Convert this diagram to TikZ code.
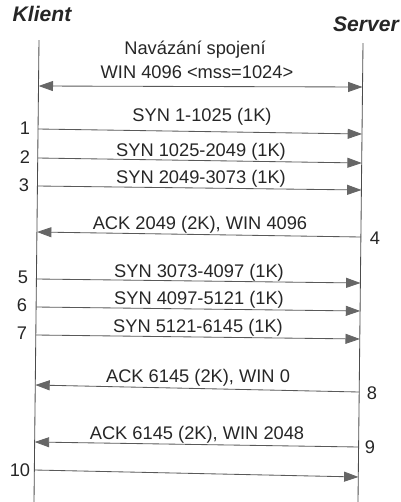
\documentclass[tikz,border=0pt]{standalone}
\usepackage{fontspec}
\setmainfont{Liberation Sans}
\usetikzlibrary{arrows.meta}

\begin{document}
\begin{tikzpicture}
    [x=0.025cm,y=-0.025cm,
    life/.style={draw=black!70,line width=0.6pt},
    msg/.style={draw=black!65,line width=0.6pt,-{Triangle[length=0.36cm,width=0.25cm,color=black!60,fill=black!60]}},
    twoway/.style={draw=black!65,line width=0.6pt,{Triangle[length=0.36cm,width=0.25cm,color=black!60,fill=black!60]}-{Triangle[length=0.36cm,width=0.25cm,color=black!60,fill=black!60]}},
    lbl/.style={font=\fontsize{13}{15}\selectfont,text=black!85,inner sep=0pt},
    head/.style={font=\fontsize{15}{17}\selectfont\bfseries\itshape,text=black!85,inner sep=0pt}]
    \useasboundingbox (0,0) rectangle (401,502);
    %titles
    \node[head] (klient) at (42,14) {Klient};
    \node[head] (server) at (366,24) {Server};
    %lifelines
    \coordinate (ktop) at (39,40);
    \coordinate (kbot) at (34,502);
    \coordinate (stop) at (363,43);
    \coordinate (sbot) at (358,502);
    \draw[life] (ktop)--(kbot);
    \draw[life] (stop)--(sbot);
    %connection setup
    \node[lbl] (setup1) at (195,50) {Navázání spojení};
    \node[lbl] (setup2) at (197,72) {WIN 4096 <mss=1024>};
    \coordinate (k0) at (38.6,86);
    \coordinate (s0) at (362.5,87);
    \draw[twoway] (k0)--(s0);
    %points on the lifelines
    \coordinate (k1) at (38.0,129);  \coordinate (s1) at (362.1,134);
    \coordinate (k2) at (37.8,158);  \coordinate (s2) at (361.8,163);
    \coordinate (k3) at (37.5,186);  \coordinate (s3) at (361.5,190);
    \coordinate (k4) at (37.0,232);  \coordinate (s4) at (361.0,237);
    \coordinate (k5) at (36.5,279);  \coordinate (s5) at (360.5,283);
    \coordinate (k6) at (36.3,307);  \coordinate (s6) at (360.2,311);
    \coordinate (k7) at (36.0,335);  \coordinate (s7) at (359.9,339);
    \coordinate (k8) at (35.3,385);  \coordinate (s8) at (359.3,392);
    \coordinate (k9) at (34.7,442);  \coordinate (s9) at (358.8,447);
    \coordinate (k10) at (34.4,470); \coordinate (s10) at (358.5,477);
    %segments
    \draw[msg] (k1)--(s1);
    \draw[msg] (k2)--(s2);
    \draw[msg] (k3)--(s3);
    \draw[msg] (s4)--(k4);
    \draw[msg] (k5)--(s5);
    \draw[msg] (k6)--(s6);
    \draw[msg] (k7)--(s7);
    \draw[msg] (s8)--(k8);
    \draw[msg] (s9)--(k9);
    \draw[msg] (k10)--(s10);
    %labels
    \node[lbl] (m1) at (202,117) {SYN 1-1025 (1K)};
    \node[lbl] (m2) at (201,152) {SYN 1025-2049 (1K)};
    \node[lbl] (m3) at (201,179) {SYN 2049-3073 (1K)};
    \node[lbl] (m4) at (200,225) {ACK 2049 (2K), WIN 4096};
    \node[lbl] (m5) at (199,273) {SYN 3073-4097 (1K)};
    \node[lbl] (m6) at (199,300) {SYN 4097-5121 (1K)};
    \node[lbl] (m7) at (198,328) {SYN 5121-6145 (1K)};
    \node[lbl] (m8) at (198,378) {ACK 6145 (2K), WIN 0};
    \node[lbl] (m9) at (197,435) {ACK 6145 (2K), WIN 2048};
    %numbers
    \node[lbl] (n1) at (25,128) {1};
    \node[lbl] (n2) at (25,157) {2};
    \node[lbl] (n3) at (24,185) {3};
    \node[lbl] (n4) at (375,238) {4};
    \node[lbl] (n5) at (23,277) {5};
    \node[lbl] (n6) at (22,305) {6};
    \node[lbl] (n7) at (22,333) {7};
    \node[lbl] (n8) at (372,393) {8};
    \node[lbl] (n9) at (370,447) {9};
    \node[lbl] (n10) at (20,470) {10};
\end{tikzpicture}
\end{document}
